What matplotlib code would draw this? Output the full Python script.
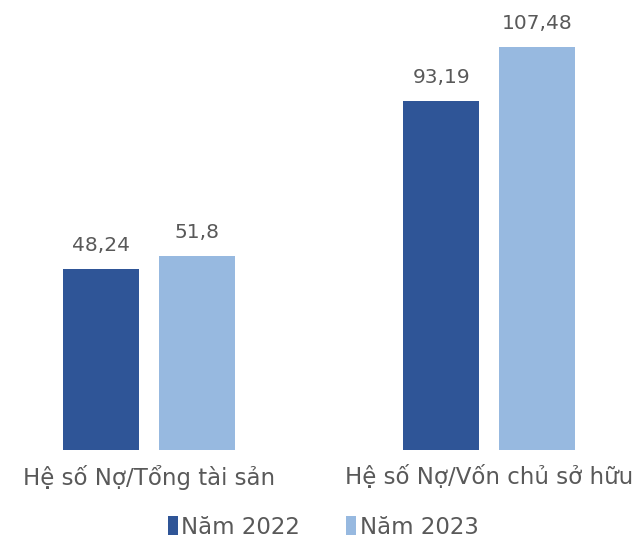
import numpy as np
import matplotlib
matplotlib.use("Agg")
import matplotlib.pyplot as plt

categories = ["Hệ số Nợ/Tổng tài sản", "Hệ số Nợ/Vốn chủ sở hữu"]
series_names = ["Năm 2022", "Năm 2023"]
values_2022 = [48.24, 93.19]
values_2023 = [51.8, 107.48]

colors = ["#2F5597", "#97B9E0"]
text_color = "#595959"

plt.rcParams["font.family"] = ["DejaVu Sans"]

fig = plt.figure(figsize=(6.4, 5.4), dpi=100)
ax = fig.add_axes([0, 90 / 540, 1, 450 / 540])

x = np.arange(len(categories))
width = 0.2235
offset = 0.141

def fmt(v):
    return ("%g" % v).replace(".", ",")

for vals, name, c, sign in [(values_2022, series_names[0], colors[0], -1),
                            (values_2023, series_names[1], colors[1], 1)]:
    bars = ax.bar(x + sign * offset, vals, width, color=c, label=name)
    ax.bar_label(bars, labels=[fmt(v) for v in vals], padding=10,
                 fontsize=14.5, color=text_color)

ax.set_xlim(-0.438, 1.444)
ax.set_ylim(0, 120)
ax.set_xticks(x)
ax.set_xticklabels(categories, fontsize=16.5, color=text_color)
ax.tick_params(axis="x", length=0, pad=11)
ax.set_yticks([])
for s in ax.spines.values():
    s.set_visible(False)

fig.legend(loc="center", bbox_to_anchor=(0.505, 13 / 540), ncol=2, frameon=False,
           fontsize=16.5, labelcolor=text_color, handlelength=0.45, handleheight=0.85,
           handletextpad=0.15, columnspacing=2.0)

fig.savefig("out.png", dpi=100)
